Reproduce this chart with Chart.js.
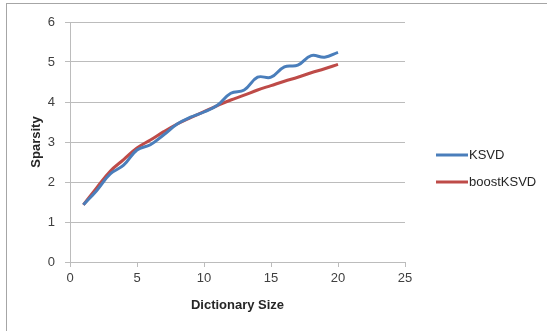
<!DOCTYPE html>
<html>
<head>
<meta charset="utf-8">
<script src="https://cdn.jsdelivr.net/npm/chart.js@4/dist/chart.umd.min.js"></script>
<style>
  html, body { margin: 0; padding: 0; background: #ffffff; }
  #wrap { width: 547px; height: 331px; }
</style>
</head>
<body>
<div id="wrap"><canvas id="c" width="547" height="331"></canvas></div>
<script>
// Dictionary sizes and the average sparsity reached by each method
const dictionarySizes = [1, 2, 3, 4, 5, 6, 7, 8, 9, 10, 11, 12, 13, 14, 15, 16, 17, 18, 19, 20];
const ksvd = [1.43, 1.79, 2.20, 2.42, 2.80, 2.93, 3.18, 3.45, 3.62, 3.75, 3.92, 4.22, 4.30, 4.62, 4.62, 4.88, 4.92, 5.16, 5.12, 5.24];
const boostKsvd = [1.43, 1.86, 2.27, 2.56, 2.85, 3.05, 3.26, 3.45, 3.61, 3.76, 3.91, 4.05, 4.17, 4.30, 4.41, 4.52, 4.62, 4.73, 4.83, 4.94];
const seriesNames = ['KSVD', 'boostKSVD'];
const seriesColors = ['#4a7ebb', '#be4b48'];

const FONT = '"Liberation Sans", Arial, sans-serif';
const GRID = '#bcbcbc';

const toPoints = (vals) => dictionarySizes.map((x, i) => ({ x: x, y: vals[i] }));

// Outer frame of the chart
const framePlugin = {
  id: 'frame',
  beforeDraw(chart) {
    const ctx = chart.ctx;
    ctx.save();
    ctx.fillStyle = '#ffffff';
    ctx.fillRect(0, 0, chart.width, chart.height);
    ctx.strokeStyle = '#a6a6a6';
    ctx.lineWidth = 1;
    ctx.strokeRect(6.5, 3.5, chart.width + 20, chart.height + 20);
    ctx.restore();
  }
};

// Legend on the right: a short line sample followed by the series name
const sideLegend = {
  id: 'sideLegend',
  afterDraw(chart) {
    const ctx = chart.ctx;
    const area = chart.chartArea;
    const x0 = area.right + 31;
    const n = chart.data.datasets.length;
    const gap = 27;
    const yStart = chart.height / 2 + 3 - (n - 1) * gap / 2;
    ctx.save();
    chart.data.datasets.forEach((ds, i) => {
      const y = yStart + i * gap;
      ctx.strokeStyle = ds.borderColor;
      ctx.lineWidth = 3;
      ctx.beginPath();
      ctx.moveTo(x0, y);
      ctx.lineTo(x0 + 32, y);
      ctx.stroke();
      ctx.fillStyle = '#262626';
      ctx.font = '13px ' + FONT;
      ctx.textBaseline = 'middle';
      ctx.textAlign = 'left';
      ctx.fillText(ds.label, x0 + 33, y);
    });
    ctx.restore();
  }
};

new Chart(document.getElementById('c'), {
  type: 'line',
  data: {
    datasets: [
      {
        label: seriesNames[0],
        data: toPoints(ksvd),
        borderColor: seriesColors[0],
        backgroundColor: seriesColors[0],
        borderWidth: 3,
        pointRadius: 0,
        tension: 0.4,
        fill: false
      },
      {
        label: seriesNames[1],
        data: toPoints(boostKsvd),
        borderColor: seriesColors[1],
        backgroundColor: seriesColors[1],
        borderWidth: 3,
        pointRadius: 0,
        tension: 0.4,
        fill: false
      }
    ]
  },
  options: {
    responsive: false,
    animation: false,
    devicePixelRatio: 1,
    layout: { padding: { left: 10, right: 142, top: 22, bottom: 0 } },
    plugins: {
      legend: { display: false },
      tooltip: { enabled: false }
    },
    scales: {
      x: {
        type: 'linear',
        min: 0,
        max: 25,
        ticks: { stepSize: 5, color: '#404040', font: { family: FONT, size: 13 }, padding: 4, maxRotation: 0 },
        grid: { drawOnChartArea: false, drawTicks: true, tickLength: 5, color: GRID },
        border: { color: GRID, width: 1 },
        title: {
          display: true,
          text: 'Dictionary Size',
          color: '#262626',
          font: { family: FONT, size: 13, weight: 'bold' },
          padding: { top: 0, bottom: 18 }
        },
        afterFit(scale) { scale.height = 69; }
      },
      y: {
        min: 0,
        max: 6,
        ticks: { stepSize: 1, color: '#404040', font: { family: FONT, size: 13 }, padding: 10 },
        grid: { drawOnChartArea: true, drawTicks: true, tickLength: 5, color: GRID },
        border: { color: GRID, width: 1 },
        title: {
          display: true,
          text: 'Sparsity',
          color: '#262626',
          font: { family: FONT, size: 13, weight: 'bold' },
          padding: { top: 19, bottom: 0 }
        },
        afterFit(scale) { scale.width = 60; }
      }
    }
  },
  plugins: [framePlugin, sideLegend]
});
</script>
</body>
</html>
